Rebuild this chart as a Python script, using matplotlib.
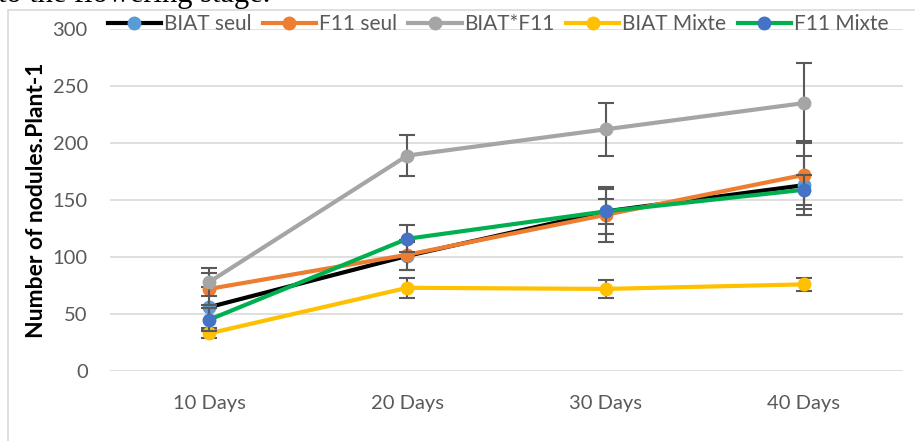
import matplotlib
matplotlib.use('Agg')
import matplotlib.pyplot as plt
from matplotlib.patches import Rectangle

# data
days = ["10 Days", "20 Days", "30 Days", "40 Days"]
biat_seul = [56, 101, 140, 163]
biat_seul_err = [18, 12, 20, 26]
f11_seul = [72, 102, 137, 172]
f11_seul_err = [14, 13, 24, 30]
biat_f11 = [78, 189, 212, 235]
biat_f11_err = [12, 18, 23, 35]
biat_mixte = [33, 73, 72, 76]
biat_mixte_err = [4, 9, 8, 6]
f11_mixte = [45, 116, 140, 159]
f11_mixte_err = [10, 12, 11, 13]

series = [
    ("BIAT seul", biat_seul, biat_seul_err, "#000000", "#5B9BD5"),
    ("F11 seul", f11_seul, f11_seul_err, "#ED7D31", "#ED7D31"),
    ("BIAT*F11", biat_f11, biat_f11_err, "#A5A5A5", "#A5A5A5"),
    ("BIAT Mixte", biat_mixte, biat_mixte_err, "#FFC000", "#FFC000"),
    ("F11 Mixte", f11_mixte, f11_mixte_err, "#00B050", "#4472C4"),
]

plt.rcParams['font.family'] = ['Lato', 'DejaVu Sans']

W, H = 915, 441
fig = plt.figure(figsize=(W / 100, H / 100), dpi=100)
ax = fig.add_axes([110 / W, 70 / H, (903 - 110) / W, (371 - 29) / H])

x = list(range(len(days)))
for i, (name, vals, err, lc, mc) in enumerate(series):
    ax.errorbar(x, vals, yerr=err, fmt='none', ecolor='#595959', elinewidth=1.5,
                capsize=6, capthick=1.5, zorder=3 + 2 * i)
    ax.plot(x, vals, color=lc, lw=3, marker='o', ms=9, mfc=mc, mec=mc,
            label=name, zorder=4 + 2 * i)

ax.set_xlim(-0.5, 3.5)
ax.set_ylim(0, 300)
ax.set_yticks(range(0, 301, 50))
ax.set_xticks(x)
ax.set_xticklabels(days)
ax.grid(axis='y', color='#D9D9D9', lw=1.2)
ax.set_axisbelow(True)
for s in ax.spines.values():
    s.set_visible(False)
ax.tick_params(length=0, labelsize=14.5, labelcolor='#595959')
ax.tick_params(axis='x', pad=17)
ax.tick_params(axis='y', pad=16)
ax.set_ylabel("Number of nodules.Plant-1", fontsize=16.5, fontweight='bold', labelpad=4)

leg = fig.legend(loc='center', bbox_to_anchor=(498 / W, 1 - 24 / H), ncol=5,
                 frameon=False, fontsize=15, handlelength=2.55, columnspacing=0.55,
                 handletextpad=0.14, labelcolor='#595959')

# outer chart border (partly off the page)
fig.patches.append(Rectangle((8 / W, -0.1), 1.2, (441 - 10) / H + 0.1,
                             transform=fig.transFigure, fill=False,
                             edgecolor='#D9D9D9', lw=1.2))

# cut-off caption from the page above
fig.text(-2 / W, 1 - 2 / H, "to the flowering stage.", family='Liberation Serif',
         fontsize=22, va='baseline', ha='left')

fig.savefig("out.png", dpi=100)
